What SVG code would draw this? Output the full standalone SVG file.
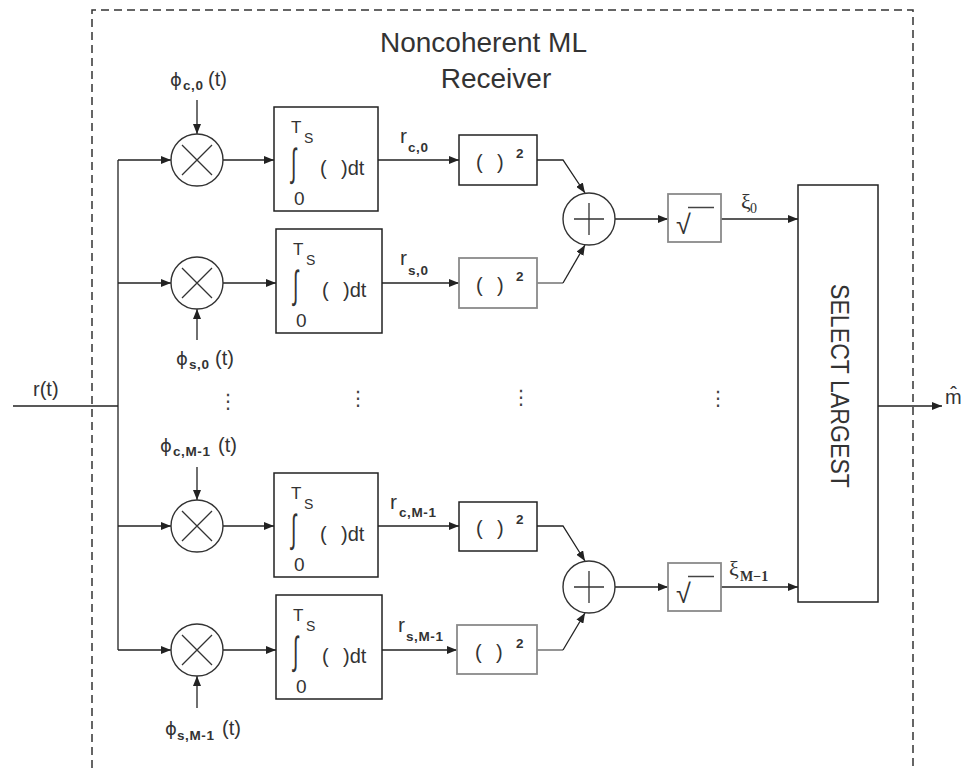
<svg xmlns="http://www.w3.org/2000/svg" width="969" height="768" viewBox="0 0 969 768">
<defs>
<marker id="ah" viewBox="0 0 10 8" refX="10" refY="4" markerWidth="10" markerHeight="8" markerUnits="userSpaceOnUse" orient="auto">
<path d="M0,0 L10,4 L0,8 z" fill="#222"/>
</marker>
</defs>
<style>
.ln{stroke:#222;stroke-width:1.3;fill:none}
.lg{stroke:#8a8a8a;stroke-width:1.8;fill:none}
.bx{fill:#fff;stroke:#222;stroke-width:1.5}
.bg{fill:#fff;stroke:#8a8a8a;stroke-width:1.8}
.cr{fill:#fff;stroke:#333;stroke-width:1.4}
.x{stroke:#333;stroke-width:1.3}
.t{font-family:"Liberation Sans",Arial,sans-serif;fill:#333}
.ph{font-family:"DejaVu Sans",sans-serif;font-size:18px}
.sb{font-family:"Liberation Sans",Arial,sans-serif;font-weight:bold;fill:#333;font-size:13.5px;letter-spacing:0.6px}
.sr{font-family:"Liberation Serif","Times New Roman",serif;fill:#333}
.ig{font-family:"DejaVu Sans",sans-serif;font-weight:200;fill:#333;font-size:39px}
.dt{font-family:"DejaVu Sans",sans-serif;fill:#444;font-size:20px}
.sq{font-family:"DejaVu Sans",sans-serif;font-weight:200;fill:#333;font-size:27px}
</style>

<g id="frame">
<path d="M92,768 V10 H913 V768" fill="none" stroke="#333" stroke-width="1.5" stroke-dasharray="8,5"/>
</g>

<g id="title">
<text class="t" x="380" y="52" font-size="28">Noncoherent ML</text>
<text class="t" x="496" y="88" font-size="28" text-anchor="middle">Receiver</text>
</g>

<g id="connectors">
<path class="ln" d="M13,406 H118"/>
<path class="ln" d="M118,160 V650"/>
<path class="ln" d="M118,160 H171" marker-end="url(#ah)"/>
<path class="ln" d="M118,283 H171" marker-end="url(#ah)"/>
<path class="ln" d="M118,526 H171" marker-end="url(#ah)"/>
<path class="ln" d="M118,650 H171" marker-end="url(#ah)"/>
<path class="ln" d="M197,100 V134" marker-end="url(#ah)"/>
<path class="ln" d="M197,340 V309" marker-end="url(#ah)"/>
<path class="ln" d="M197,467 V500" marker-end="url(#ah)"/>
<path class="ln" d="M197,708 V676" marker-end="url(#ah)"/>
<path class="ln" d="M223,160 H274" marker-end="url(#ah)"/>
<path class="ln" d="M223,283 H276" marker-end="url(#ah)"/>
<path class="ln" d="M223,526 H274" marker-end="url(#ah)"/>
<path class="ln" d="M223,650 H276" marker-end="url(#ah)"/>
<path class="ln" d="M378,160 H459" marker-end="url(#ah)"/>
<path class="ln" d="M382,283 H459" marker-end="url(#ah)"/>
<path class="ln" d="M378,526 H459" marker-end="url(#ah)"/>
<path class="ln" d="M382,650 H457" marker-end="url(#ah)"/>
<path class="ln" d="M537,160 H563 L585,193" marker-end="url(#ah)"/>
<path class="lg" d="M537,283 H563"/>
<path class="ln" d="M563,283 L585,245" marker-end="url(#ah)"/>
<path class="ln" d="M537,526 H563 L585,561" marker-end="url(#ah)"/>
<path class="lg" d="M537,650 H563"/>
<path class="ln" d="M563,650 L585,613" marker-end="url(#ah)"/>
<path class="ln" d="M615,219 H668" marker-end="url(#ah)"/>
<path class="ln" d="M721,219 H798" marker-end="url(#ah)"/>
<path class="ln" d="M615,587 H668" marker-end="url(#ah)"/>
<path class="ln" d="M721,587 H798" marker-end="url(#ah)"/>
<path class="ln" d="M878,406 H942" marker-end="url(#ah)"/>
</g>

<g id="input-label">
<text class="t" x="33" y="396" font-size="20">r(t)</text>
</g>

<g id="mult-c0">
<circle class="cr" cx="197" cy="160" r="26"/>
<path class="x" d="M182,145 L212,175 M212,145 L182,175"/>
<text class="t" y="86" font-size="20"><tspan class="ph" x="170">ϕ</tspan><tspan class="sb" x="183" y="90">c,0</tspan><tspan x="208" y="86">(t)</tspan></text>
</g>
<g id="mult-s0">
<circle class="cr" cx="197" cy="283" r="26"/>
<path class="x" d="M182,268 L212,298 M212,268 L182,298"/>
<text class="t" y="365" font-size="20"><tspan class="ph" x="176">ϕ</tspan><tspan class="sb" x="189" y="369">s,0</tspan><tspan x="215" y="365">(t)</tspan></text>
</g>
<g id="mult-cM1">
<circle class="cr" cx="197" cy="526" r="26"/>
<path class="x" d="M182,511 L212,541 M212,511 L182,541"/>
<text class="t" y="452" font-size="20"><tspan class="ph" x="160">ϕ</tspan><tspan class="sb" x="173" y="456">c,M-1</tspan><tspan x="218" y="452">(t)</tspan></text>
</g>
<g id="mult-sM1">
<circle class="cr" cx="197" cy="650" r="26"/>
<path class="x" d="M182,635 L212,665 M212,635 L182,665"/>
<text class="t" y="735" font-size="20"><tspan class="ph" x="165">ϕ</tspan><tspan class="sb" x="177" y="740">s,M-1</tspan><tspan x="222" y="735">(t)</tspan></text>
</g>

<g id="int-c0">
<rect class="bx" x="274" y="107" width="104" height="104"/>
<text class="t" x="291" y="133" font-size="17">T</text><text class="t" x="304" y="143" font-size="14">S</text>
<text class="ig" transform="translate(291,176) scale(0.5,1)">∫</text>
<text class="t" x="320" y="175" font-size="20">(</text><text class="t" x="341" y="175" font-size="20">)dt</text>
<text class="t" x="294" y="205" font-size="19">0</text>
</g>
<g id="int-s0">
<rect class="bx" x="276" y="229" width="106" height="104"/>
<text class="t" x="293" y="255" font-size="17">T</text><text class="t" x="306" y="265" font-size="14">S</text>
<text class="ig" transform="translate(293,298) scale(0.5,1)">∫</text>
<text class="t" x="322" y="297" font-size="20">(</text><text class="t" x="343" y="297" font-size="20">)dt</text>
<text class="t" x="296" y="327" font-size="19">0</text>
</g>
<g id="int-cM1">
<rect class="bx" x="274" y="473" width="104" height="104"/>
<text class="t" x="291" y="499" font-size="17">T</text><text class="t" x="304" y="509" font-size="14">S</text>
<text class="ig" transform="translate(291,542) scale(0.5,1)">∫</text>
<text class="t" x="320" y="541" font-size="20">(</text><text class="t" x="341" y="541" font-size="20">)dt</text>
<text class="t" x="294" y="571" font-size="19">0</text>
</g>
<g id="int-sM1">
<rect class="bx" x="276" y="595" width="106" height="104"/>
<text class="t" x="293" y="621" font-size="17">T</text><text class="t" x="306" y="631" font-size="14">S</text>
<text class="ig" transform="translate(293,664) scale(0.5,1)">∫</text>
<text class="t" x="322" y="663" font-size="20">(</text><text class="t" x="343" y="663" font-size="20">)dt</text>
<text class="t" x="296" y="693" font-size="19">0</text>
</g>

<g id="lbl-r">
<text class="t" x="400" y="143" font-size="21">r</text><text class="sb" x="408" y="152">c,0</text>
<text class="t" x="400" y="265" font-size="21">r</text><text class="sb" x="408" y="275">s,0</text>
<text class="t" x="390" y="509" font-size="21">r</text><text class="sb" x="399" y="517">c,M-1</text>
<text class="t" x="398" y="632" font-size="21">r</text><text class="sb" x="406" y="641">s,M-1</text>
</g>

<g id="sq-c0">
<rect class="bx" x="459" y="135" width="78" height="50"/>
<text class="t" x="476" y="169" font-size="20">(</text><text class="t" x="497" y="169" font-size="20">)</text><text class="sb" x="516" y="158" font-size="13">2</text>
</g>
<g id="sq-s0">
<rect class="bg" x="459" y="258" width="78" height="50"/>
<text class="t" x="476" y="292" font-size="20">(</text><text class="t" x="497" y="292" font-size="20">)</text><text class="sb" x="516" y="281" font-size="13">2</text>
</g>
<g id="sq-cM1">
<rect class="bx" x="459" y="502" width="78" height="49"/>
<text class="t" x="476" y="535" font-size="20">(</text><text class="t" x="497" y="535" font-size="20">)</text><text class="sb" x="516" y="524" font-size="13">2</text>
</g>
<g id="sq-sM1">
<rect class="bg" x="457" y="625" width="80" height="49"/>
<text class="t" x="475" y="659" font-size="20">(</text><text class="t" x="496" y="659" font-size="20">)</text><text class="sb" x="516" y="648" font-size="13">2</text>
</g>

<g id="sum-0">
<circle class="cr" cx="589" cy="219" r="26"/>
<path class="x" d="M574,219 H604 M589,203 V235"/>
</g>
<g id="sum-M1">
<circle class="cr" cx="589" cy="587" r="26"/>
<path class="x" d="M574,587 H604 M589,571 V603"/>
</g>

<g id="sqrt-0">
<rect class="bg" x="668" y="194" width="53" height="48"/>
<text class="sq" x="676" y="234">√</text>
<path d="M688,207.5 H714" stroke="#444" stroke-width="1.5"/>
<text class="sr" x="741" y="209" font-size="22">ξ</text><text class="sr" x="750" y="213" font-size="14">0</text>
</g>
<g id="sqrt-M1">
<rect class="bg" x="668" y="563" width="53" height="48"/>
<text class="sq" x="676" y="603">√</text>
<path d="M688,576.5 H714" stroke="#444" stroke-width="1.5"/>
<text class="sr" x="729" y="576" font-size="22">ξ</text><text class="sr" x="740" y="581" font-size="14" font-weight="bold">M−1</text>
</g>

<g id="select">
<rect class="bx" x="798" y="185" width="80" height="417"/>
<text class="t" font-size="26" transform="translate(831,386) rotate(90)" text-anchor="middle" textLength="204" lengthAdjust="spacingAndGlyphs">SELECT  LARGEST</text>
</g>

<g id="output-label">
<text class="t" x="945" y="404" font-size="20">m̂</text>
</g>

<g id="dots">
<text class="dt" x="218" y="408">⋮</text>
<text class="dt" x="348" y="405">⋮</text>
<text class="dt" x="511" y="404">⋮</text>
<text class="dt" x="708" y="405">⋮</text>
</g>
</svg>
